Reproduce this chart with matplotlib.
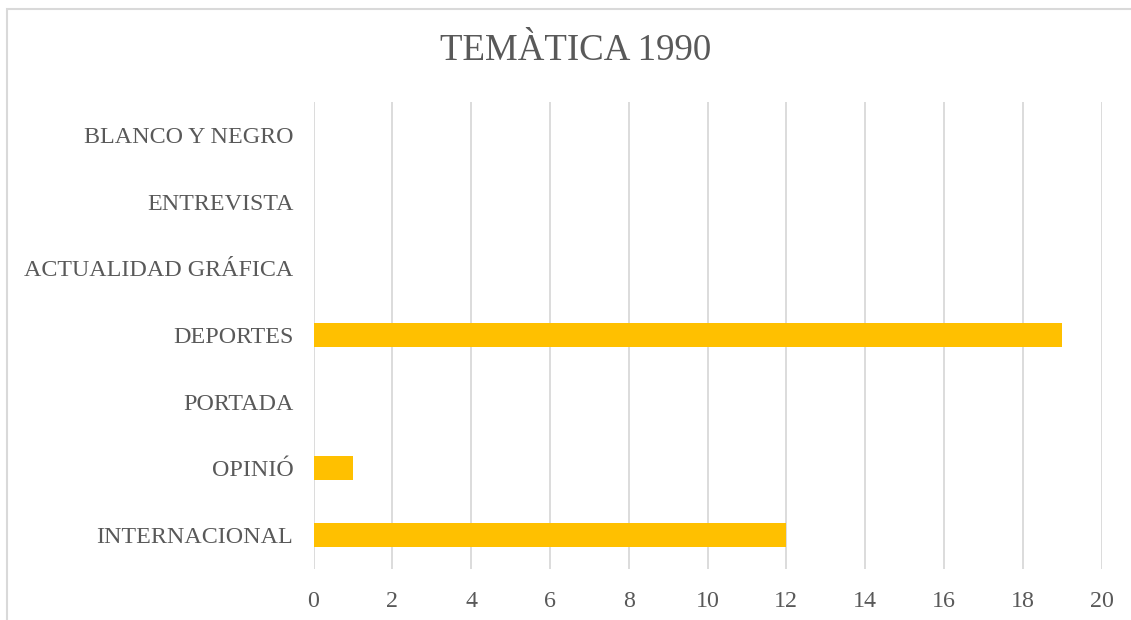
import matplotlib.pyplot as plt
from matplotlib.patches import Rectangle

categories = ["INTERNACIONAL", "OPINIÓ", "PORTADA", "DEPORTES",
              "ACTUALIDAD GRÁFICA", "ENTREVISTA", "BLANCO Y NEGRO"]
values = [12, 1, 0, 19, 0, 0, 0]
xticks = list(range(0, 21, 2))

plt.rcParams['font.family'] = ['Liberation Serif', 'DejaVu Serif']
text_color = "#595959"

W, H = 1131, 620
fig = plt.figure(figsize=(W / 100, H / 100), dpi=100)
ax = fig.add_axes([313.5 / W, 1 - 568.5 / H, (1101.5 - 313.5) / W, (568.5 - 101.5) / H])

ypos = list(range(len(categories)))
ax.barh(ypos, values, height=0.36, color="#FFC000", zorder=3)

ax.set_xlim(0, 20)
ax.set_ylim(-0.5, len(categories) - 0.5)
ax.set_xticks(xticks)
ax.set_yticks(ypos)
ax.set_yticklabels(categories)
ax.grid(axis="x", color="#D9D9D9", linewidth=1.3, zorder=0)
ax.tick_params(axis="both", length=0, labelsize=17.3, labelcolor=text_color)
ax.tick_params(axis="y", pad=14.5)
ax.tick_params(axis="x", pad=16.5)
for s in ax.spines.values():
    s.set_visible(False)

fig.text(576 / W, 1 - 51 / H, "TEMÀTICA 1990", ha="center", va="center",
         fontsize=26.6, color=text_color)

# chart border, running off the right and bottom edges as in the reference
fig.patches.append(Rectangle((7 / W, 1 - 640 / H), (1160 - 7) / W, (640 - 9) / H,
                             transform=fig.transFigure, fill=False,
                             edgecolor="#D9D9D9", linewidth=1.5))

fig.savefig("out.png", dpi=100)
